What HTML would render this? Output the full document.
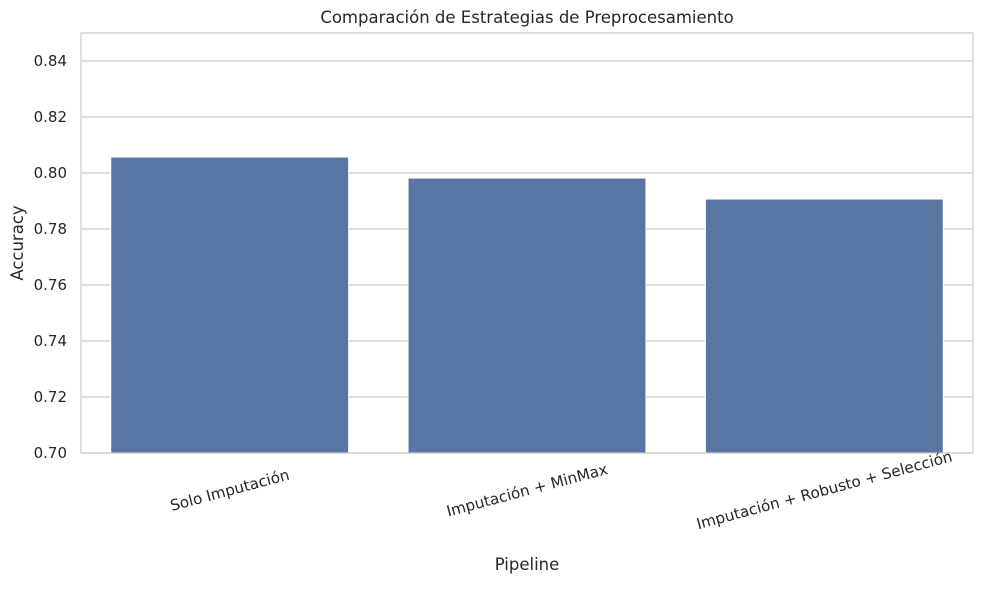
<!DOCTYPE html>
<html><head><meta charset="utf-8"><style>
body{margin:0;background:#fff;}
svg text{font-family:"DejaVu Sans","Liberation Sans",sans-serif;fill:#262626;}
</style></head><body>
<svg id="chart" width="982" height="584">
<rect width="982" height="584" fill="#fff"/>
<g id="grid"></g>
<g id="bars"></g>
<rect x="81" y="33" width="892" height="420" fill="none" stroke="#cccccc" stroke-width="1.25"/>
<g id="yticks"></g>
<g id="xticks"></g>
<text x="527" y="23" text-anchor="middle" font-size="16.5">Comparación de Estrategias de Preprocesamiento</text>
<text x="527" y="570" text-anchor="middle" font-size="16.5">Pipeline</text>
<text transform="translate(23,243) rotate(-90)" text-anchor="middle" font-size="16.5">Accuracy</text>
</svg>
<script>
const categories=["Solo Imputación","Imputación + MinMax","Imputación + Robusto + Selección"];
const values=[0.8057,0.7982,0.7907];
const yTicks=[0.70,0.72,0.74,0.76,0.78,0.80,0.82,0.84];
const yMin=0.70,yMax=0.85;
const L=81,R=973,T=33,B=453;
const ns="http://www.w3.org/2000/svg";
function y(v){return B-(v-yMin)/(yMax-yMin)*(B-T);}
function xc(i){return L+(i+0.5)*(R-L)/categories.length;}
const bw=0.8*(R-L)/categories.length;
const grid=document.getElementById('grid'),yt=document.getElementById('yticks'),bars=document.getElementById('bars'),xt=document.getElementById('xticks');
yTicks.forEach(t=>{
 const l=document.createElementNS(ns,'line');
 l.setAttribute('x1',L);l.setAttribute('x2',R);l.setAttribute('y1',y(t));l.setAttribute('y2',y(t));
 l.setAttribute('stroke','#cccccc');l.setAttribute('stroke-width','1.25');
 
 
 grid.appendChild(l);
 const tx=document.createElementNS(ns,'text');
 tx.setAttribute('x',L-14);tx.setAttribute('y',y(t)+5);tx.setAttribute('text-anchor','end');tx.setAttribute('font-size','15');
 tx.textContent=t.toFixed(2);
 
 
 yt.appendChild(tx);
});
categories.forEach((c,i)=>{
 const r=document.createElementNS(ns,'rect');
 r.setAttribute('x',xc(i)-bw/2);r.setAttribute('width',bw);
 r.setAttribute('y',y(values[i]));r.setAttribute('height',B-y(values[i]));
 r.setAttribute('fill','#5975a4');r.setAttribute('stroke','#fff');r.setAttribute('stroke-width','1');
 
 
 bars.appendChild(r);
 const tx=document.createElementNS(ns,'text');
 tx.setAttribute('transform','translate('+xc(i)+','+(B+37)+') rotate(-15)');
 tx.setAttribute('text-anchor','middle');tx.setAttribute('font-size','15.2');tx.setAttribute('dy','0.35em');
 tx.textContent=c;
 
 
 xt.appendChild(tx);
});
</script>
</body></html>
